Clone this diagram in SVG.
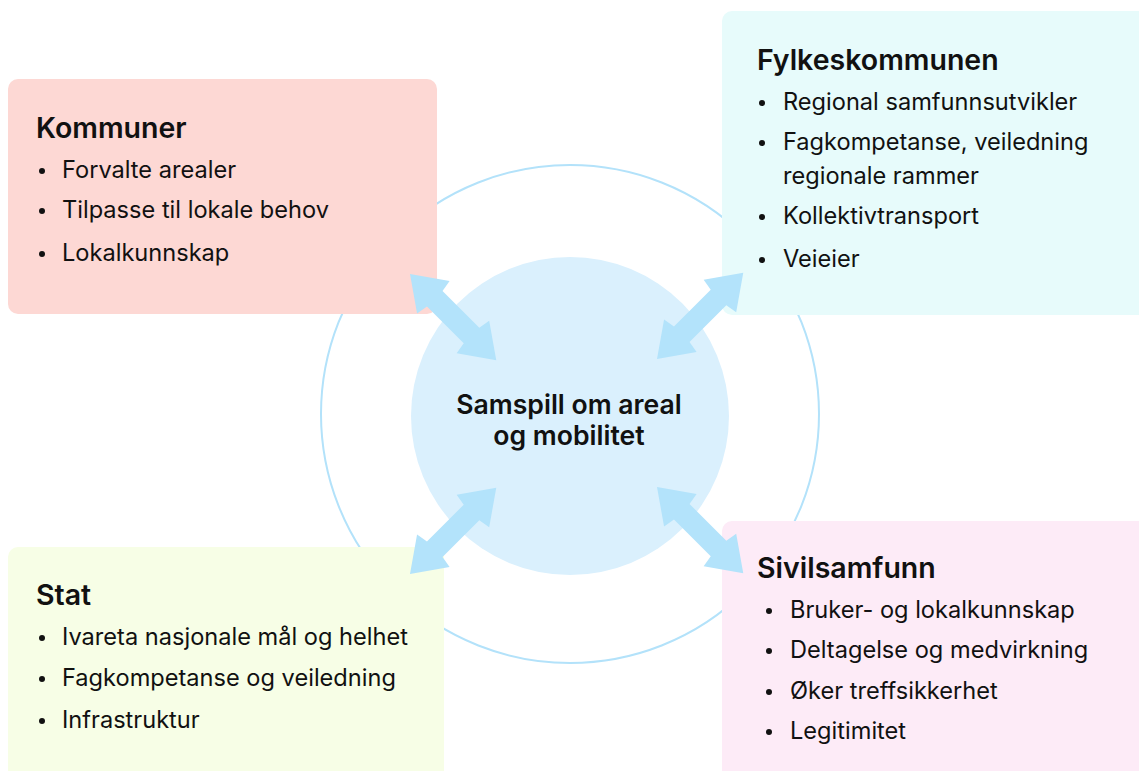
<svg xmlns="http://www.w3.org/2000/svg" width="1139" height="771" viewBox="0 0 1139 771">
  <defs>
    <style>
      text { font-family: Inter, "Noto Sans", "Liberation Sans", sans-serif; fill: #111; }
      .h { font-size: 28.5px; font-weight: 600; }
      .b { font-size: 23.6px; font-weight: 400; }
      .c { font-size: 26.6px; font-weight: 600; text-anchor: middle; }
      .dot { fill: #111; }
      .arrow { fill: #b3e3fb; }
    </style>
    <polygon id="dbl" points="0,0 33,-23 35,-11 87,-11 89,-23 122,0 89,23 87,11 35,11 33,23"/>
  </defs>
  <rect width="1139" height="771" fill="#ffffff"/>
  <g id="ring">
    <circle cx="570" cy="414" r="249" fill="none" stroke="#b3e2fa" stroke-width="2"/>
  </g>
  <g id="kommuner">
    <rect x="8" y="79" width="429" height="235" rx="10" fill="#fdd8d4"/>
    <text class="h" x="36" y="138">Kommuner</text>
    <circle class="dot" cx="42" cy="171" r="3"/>
    <text class="b" x="62" y="178">Forvalte arealer</text>
    <circle class="dot" cx="42" cy="211" r="3"/>
    <text class="b" x="62" y="218">Tilpasse til lokale behov</text>
    <circle class="dot" cx="42" cy="254" r="3"/>
    <text class="b" x="62" y="261">Lokalkunnskap</text>
  </g>
  <g id="fylkeskommunen">
    <rect x="722" y="11" width="430" height="304" rx="10" fill="#e7fbfb"/>
    <text class="h" x="757" y="70">Fylkeskommunen</text>
    <circle class="dot" cx="762" cy="103" r="3"/>
    <text class="b" x="783" y="110">Regional samfunnsutvikler</text>
    <circle class="dot" cx="762" cy="143" r="3"/>
    <text class="b" x="783" y="150">Fagkompetanse, veiledning</text>
    <text class="b" x="783" y="184">regionale rammer</text>
    <circle class="dot" cx="762" cy="217" r="3"/>
    <text class="b" x="783" y="224">Kollektivtransport</text>
    <circle class="dot" cx="762" cy="260" r="3"/>
    <text class="b" x="783" y="267">Veieier</text>
  </g>
  <g id="stat">
    <rect x="8" y="547" width="436" height="240" rx="10" fill="#f7fee6"/>
    <text class="h" x="36" y="605">Stat</text>
    <circle class="dot" cx="42" cy="638" r="3"/>
    <text class="b" x="62" y="645">Ivareta nasjonale mål og helhet</text>
    <circle class="dot" cx="42" cy="679" r="3"/>
    <text class="b" x="62" y="686">Fagkompetanse og veiledning</text>
    <circle class="dot" cx="42" cy="721" r="3"/>
    <text class="b" x="62" y="728">Infrastruktur</text>
  </g>
  <g id="sivilsamfunn">
    <rect x="722" y="521" width="430" height="270" rx="10" fill="#fdebf7"/>
    <text class="h" x="757" y="578">Sivilsamfunn</text>
    <circle class="dot" cx="769" cy="611" r="3"/>
    <text class="b" x="790" y="618">Bruker- og lokalkunnskap</text>
    <circle class="dot" cx="769" cy="651" r="3"/>
    <text class="b" x="790" y="658">Deltagelse og medvirkning</text>
    <circle class="dot" cx="769" cy="692" r="3"/>
    <text class="b" x="790" y="699">Øker treffsikkerhet</text>
    <circle class="dot" cx="769" cy="732" r="3"/>
    <text class="b" x="790" y="739">Legitimitet</text>
  </g>
  <g id="center">
    <circle cx="570" cy="416" r="159" fill="#daf0fd"/>
    <text class="c" x="569" y="414">Samspill om areal</text>
    <text class="c" x="569" y="445">og mobilitet</text>
  </g>
  <g id="connectors">
    <use href="#dbl" class="arrow" transform="translate(410,274) rotate(45)"/>
    <use href="#dbl" class="arrow" transform="translate(657,359) rotate(-45)"/>
    <use href="#dbl" class="arrow" transform="translate(410,574) rotate(-45)"/>
    <use href="#dbl" class="arrow" transform="translate(657,487) rotate(45)"/>
  </g>
</svg>
